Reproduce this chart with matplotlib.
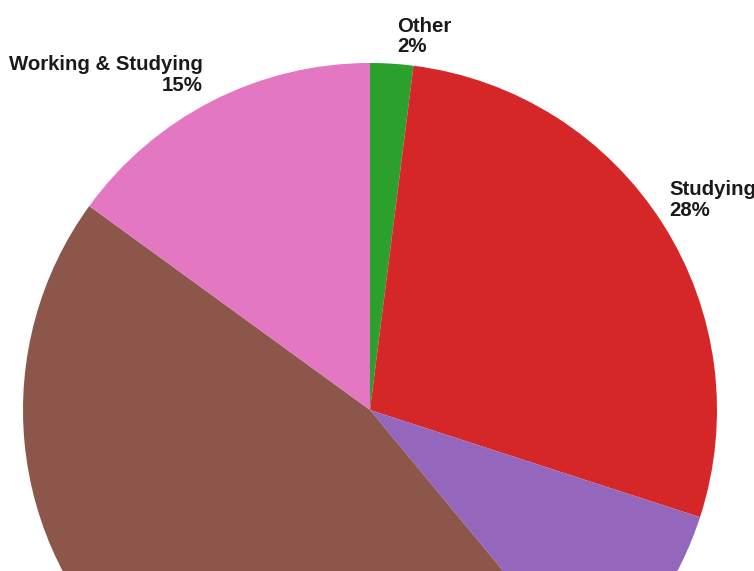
import matplotlib
matplotlib.use("Agg")
import matplotlib.pyplot as plt
import numpy as np

# ---- data ----
categories = ["Other", "Studying", "Working", "Not Working", "Working & Studying"]
values = [2, 28, 9, 46, 15]
colors = ["#2ca02c", "#d62728", "#9467bd", "#8c564b", "#e377c2"]
show_label = [True, True, False, False, True]

# ---- layout ----
W, H = 754, 571
cx, cy, R = 370, 410, 347
# label anchor (pixel coords, top of text) and horizontal alignment
label_pos = {
    "Other": (397, 16.5, "left"),
    "Studying": (669, 180, "left"),
    "Working & Studying": (203, 55, "right"),
}

fig = plt.figure(figsize=(W / 100, H / 100), dpi=100)
ax = fig.add_axes([0, 0, 1, 1])
ax.pie(values, colors=colors, startangle=90, counterclock=False,
       center=(cx, H - cy), radius=R, wedgeprops=dict(linewidth=0))
ax.set_xlim(0, W)
ax.set_ylim(0, H)
ax.set_aspect("auto")
ax.axis("off")

total = sum(values)
for cat, v, show in zip(categories, values, show_label):
    if not show:
        continue
    x, y, ha = label_pos[cat]
    pct = f"{round(100 * v / total)}%"
    ax.text(x, H - y, f"{cat}\n{pct}", ha=ha, va="top", multialignment=ha,
            fontsize=14.7, fontweight="bold", family="Liberation Sans",
            color="#1a1a1a", linespacing=1.12)

fig.savefig("out.png", dpi=100)
